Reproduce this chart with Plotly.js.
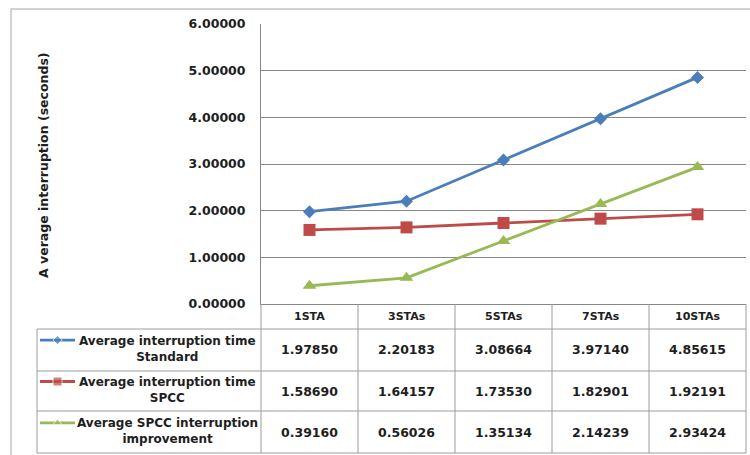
<!DOCTYPE html>
<html>
<head>
<meta charset="utf-8">
<script src="https://cdn.plot.ly/plotly-3.0.1.min.js"></script>
<style>html,body{margin:0;padding:0;background:#fff}#chart{width:750px;height:455px}</style>
</head>
<body>
<div id="chart"></div>
<script>
// ---- data ----
const categories = ['1STA', '3STAs', '5STAs', '7STAs', '10STAs'];
const standardTimes = [1.97850, 2.20183, 3.08664, 3.97140, 4.85615];
const spccTimes = [1.58690, 1.64157, 1.73530, 1.82901, 1.92191];
const improvementTimes = [0.39160, 0.56026, 1.35134, 2.14239, 2.93424];
const seriesLabels = ['Average interruption time<br>Standard', 'Average interruption time<br>SPCC', 'Average SPCC interruption<br>improvement'];
const yTitle = 'A verage interruption (seconds)';

// ---- styling / layout helpers ----
const W = 750, H = 455;
const P = px => px / W;
const Q = py => (H - py) / H;
const FONT = 'DejaVu Sans, Verdana, sans-serif';
const TXT = '#1e1e1e';
const GRID = '#878787';
const TBL = '#9c9c9c';
const series = [
  {y: standardTimes, color: '#4A7EBB', symbol: 'diamond', size: 10, keySize: 7},
  {y: spccTimes, color: '#BE4B48', symbol: 'square', size: 12, keySize: 9},
  {y: improvementTimes, color: '#98B954', symbol: 'triangle-up', size: 12, keySize: 8}
];

const rowTops = [329, 371, 411];
const rowBots = [371, 411, 453];
const headTop = 304, headBot = 329;

const traces = [];
series.forEach((s, i) => {
  traces.push({
    type: 'scatter', mode: 'lines+markers', x: categories, y: s.y,
    line: {color: s.color, width: 2.8},
    marker: {symbol: s.symbol, size: s.size, color: s.color},
    xaxis: 'x', yaxis: 'y', showlegend: false, hoverinfo: 'skip', cliponaxis: false
  });
  // legend key inside table
  traces.push({
    type: 'scatter', mode: 'lines+markers', x: [0, 0.5, 1], y: [i, i, i],
    line: {color: s.color, width: 2.8},
    marker: {symbol: s.symbol, size: [0, s.keySize, 0], color: s.color},
    xaxis: 'x2', yaxis: 'y2', showlegend: false, hoverinfo: 'skip', cliponaxis: false
  });
});

const shapes = [];
const hline = (py, x0, x1) => shapes.push({type: 'line', xref: 'paper', yref: 'paper', x0: P(x0), x1: P(x1), y0: Q(py), y1: Q(py), line: {color: TBL, width: 1}});
const vlineP = (px, y0, y1) => shapes.push({type: 'line', xref: 'paper', yref: 'paper', x0: P(px), x1: P(px), y0: Q(y0), y1: Q(y1), line: {color: TBL, width: 1}});
// outer chart border
shapes.push({type: 'rect', xref: 'paper', yref: 'paper', x0: P(11), x1: P(820), y0: Q(9), y1: Q(520), line: {color: '#a6a6a6', width: 1}});
rowBots.forEach(b => hline(b, 37, 746));
hline(headBot, 37, 746);
vlineP(37, headBot, 453);
vlineP(261, headTop, 453);
vlineP(746, headTop, 453);
for (let k = 0; k < categories.length - 1; k++) {
  shapes.push({type: 'line', xref: 'x', yref: 'paper', x0: k + 0.5, x1: k + 0.5, y0: Q(headTop), y1: Q(453), line: {color: TBL, width: 1}});
}

const annotations = [];
// header
categories.forEach(c => annotations.push({
  xref: 'x', yref: 'paper', x: c, y: Q((headTop + headBot) / 2), text: c, showarrow: false,
  font: {family: FONT, size: 11, color: TXT, weight: 'bold'}, xanchor: 'center', yanchor: 'middle'
}));
// values
series.forEach((s, i) => {
  const yc = Q((rowTops[i] + rowBots[i]) / 2);
  s.y.forEach((v, j) => annotations.push({
    xref: 'x', yref: 'paper', x: categories[j], y: yc, text: v.toFixed(5), showarrow: false,
    font: {family: FONT, size: 12.5, color: TXT, weight: 'bold'}, xanchor: 'center', yanchor: 'middle'
  }));
  annotations.push({
    xref: 'paper', yref: 'paper', x: P(167), y: yc + 0.002, text: seriesLabels[i], showarrow: false,
    font: {family: FONT, size: 12, color: TXT, weight: 'bold'}, xanchor: 'center', yanchor: 'middle', align: 'center'
  });
});
// y axis title
annotations.push({
  xref: 'paper', yref: 'paper', x: P(43), y: Q(165), text: yTitle, textangle: -90, showarrow: false,
  font: {family: FONT, size: 12.5, color: TXT, weight: 'bold'}, xanchor: 'center', yanchor: 'middle'
});

const layout = {
  width: W, height: H,
  margin: {l: 0, r: 0, t: 0, b: 0},
  paper_bgcolor: '#fff', plot_bgcolor: '#fff',
  showlegend: false,
  xaxis: {
    domain: [P(261), P(746)], type: 'category', categoryarray: categories, range: [-0.5, 4.5],
    showgrid: false, zeroline: false, showticklabels: false, ticks: '',
    showline: true, linecolor: GRID, linewidth: 1, fixedrange: true
  },
  yaxis: {
    domain: [Q(304), Q(24)], range: [0, 6], dtick: 1, tick0: 0, tickformat: '.5f',
    showgrid: true, gridcolor: GRID, gridwidth: 1, zeroline: false,
    showline: true, linecolor: GRID, linewidth: 1, ticks: '', ticklabelstandoff: 12,
    tickfont: {family: FONT, size: 12.5, color: TXT, weight: 'bold'}, fixedrange: true
  },
  xaxis2: {domain: [P(40), P(75)], range: [0, 1], visible: false, anchor: 'y2', fixedrange: true},
  yaxis2: {domain: [Q(443.5), Q(319.5)], range: [2.5, -0.5], visible: false, anchor: 'x2', fixedrange: true},
  shapes: shapes,
  annotations: annotations
};

Plotly.newPlot('chart', traces, layout, {displayModeBar: false, staticPlot: true});
</script>
</body>
</html>
